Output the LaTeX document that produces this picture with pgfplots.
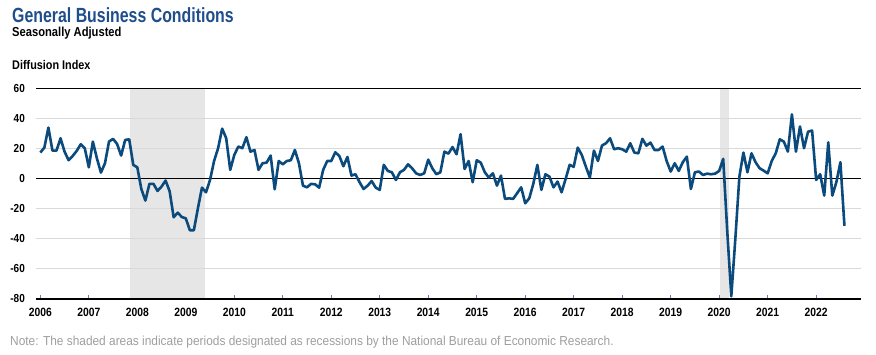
\documentclass[border=0pt]{standalone}
\usepackage{fontspec}
\setmainfont{Liberation Sans}[FakeStretch=0.86]
\newfontfamily\titlefont{Liberation Sans}[FakeStretch=0.775]
\newfontfamily\notefont{Liberation Sans}[FakeStretch=0.915]
\usepackage{graphicx}
\usepackage{pgfplots}
\pgfplotsset{compat=1.18}
\usepackage{pgfplotstable}

\definecolor{titleblue}{HTML}{1F4E8C}
\definecolor{lineblue}{HTML}{0B4A7C}
\definecolor{shade}{HTML}{E6E6E6}
\definecolor{gridgray}{HTML}{D9D9D9}
\definecolor{notegray}{HTML}{9E9E9E}
\definecolor{tickc}{HTML}{6A7FB0}

\pgfplotstableread{
k v
0 17.3
1 20.6
2 33.9
3 18.6
4 18.6
5 26.8
6 17.9
7 12.2
8 15.0
9 18.4
10 22.8
11 20.2
12 7.5
13 24.6
14 13.5
15 4.0
16 10.2
17 24.6
18 26.4
19 23.0
20 15.3
21 25.7
22 26.1
23 9.1
24 7.5
25 -6.9
26 -14.6
27 -3.5
28 -3.5
29 -8.2
30 -5.3
31 -1.3
32 -8.4
33 -25.7
34 -22.6
35 -25.5
36 -26.4
37 -34.3
38 -34.3
39 -19.7
40 -6.0
41 -9.1
42 -0.9
43 11.7
44 20.2
45 33.2
46 26.8
47 5.8
48 15.7
49 21.3
50 20.2
51 27.5
52 17.9
53 19.0
54 5.8
55 10.2
56 10.6
57 15.3
58 -7.1
59 11.7
60 9.5
61 11.7
62 12.2
63 19.0
64 10.2
65 -4.7
66 -5.8
67 -3.5
68 -3.8
69 -6.0
70 5.8
71 11.7
72 11.7
73 17.5
74 15.0
75 8.2
76 14.4
77 2.0
78 2.9
79 -2.4
80 -6.9
81 -4.7
82 -1.6
83 -6.0
84 -7.5
85 9.1
86 5.1
87 4.2
88 -0.9
89 4.2
90 5.8
91 9.5
92 6.9
93 3.5
94 2.4
95 3.5
96 12.6
97 6.9
98 2.9
99 4.2
100 17.9
101 16.6
102 21.0
103 16.2
104 29.5
105 6.4
106 11.7
107 -2.4
108 12.2
109 10.6
110 4.2
111 0.7
112 3.5
113 -4.7
114 2.0
115 -13.5
116 -13.1
117 -13.5
118 -9.7
119 -5.8
120 -16.4
121 -13.1
122 -3.5
123 9.1
124 -7.5
125 2.9
126 1.3
127 -5.8
128 -2.0
129 -9.1
130 -0.2
131 9.1
132 7.8
133 20.6
134 15.7
135 8.0
136 0.7
137 18.6
138 11.7
139 22.0
140 23.5
141 26.8
142 19.5
143 20.2
144 19.5
145 17.9
146 23.5
147 17.3
148 16.8
149 26.4
150 21.9
151 23.9
152 19.0
153 19.0
154 21.3
155 11.7
156 4.7
157 10.2
158 5.1
159 10.9
160 14.6
161 -6.9
162 4.2
163 4.7
164 2.4
165 3.3
166 2.9
167 3.3
168 5.1
169 13.1
170 -35.0
171 -78.2
172 -40.0
173 1.3
174 17.3
175 4.2
176 16.8
177 10.9
178 6.9
179 5.3
180 3.5
181 11.7
182 16.8
183 26.1
184 24.6
185 17.9
186 42.7
187 17.9
188 34.6
189 20.2
190 31.2
191 31.9
192 -0.9
193 2.9
194 -11.3
195 24.1
196 -11.3
197 -2.4
198 10.9
199 -31.4
}\gbc

\begin{document}
\begin{tikzpicture}
\path[use as bounding box] (0pt,0pt) rectangle (876pt,354pt);
\node[anchor=base west, inner sep=0pt, text=titleblue, font=\titlefont\fontsize{20.5}{22}\selectfont\bfseries] at (12pt,331.7pt) {General Business Conditions};
\node[anchor=base west, inner sep=0pt, font=\fontsize{13}{14}\selectfont\bfseries] at (12pt,317.3pt) {Seasonally Adjusted};
\node[anchor=base west, inner sep=0pt, font=\fontsize{12.6}{14}\selectfont\bfseries] at (12pt,284.5pt) {Diffusion Index};
\node[anchor=base west, inner sep=0pt, text=notegray, font=\notefont\fontsize{13}{14}\selectfont] at (10pt,9pt) {Note: The shaded areas indicate periods designated as recessions by the National Bureau of Economic Research.};
\begin{axis}[
  at={(36pt,55pt)}, anchor=south west,
  scale only axis, width=825pt, height=210.7pt,
  xmin=-1.07, xmax=203.1, ymin=-80, ymax=60,
  clip=false,
  axis line style={draw=none},
  xtick={0,12,...,192},
  xticklabels={2006,2007,2008,2009,2010,2011,2012,2013,2014,2015,2016,2017,2018,2019,2020,2021,2022},
  xtick pos=left, xtick align=inside,
  major tick length=4pt,
  x tick style={tickc, line width=1pt},
  ytick={-80,-60,-40,-20,0,20,40,60},
  yticklabels={-80,-60,-40,-20,0,20,40,60},
  y tick style={draw=none},
  xticklabel style={font=\fontsize{12}{13}\selectfont\bfseries, anchor=north, inner sep=0pt, yshift=-9pt},
  yticklabel style={font=\fontsize{11.6}{13}\selectfont\bfseries, anchor=east, inner sep=0pt, xshift=-11pt},
]
\addplot[fill=shade, draw=none] coordinates {(22.2,-80) (22.2,60) (40.7,60) (40.7,-80)};
\addplot[fill=shade, draw=none] coordinates {(168.2,-80) (168.2,60) (170.4,60) (170.4,-80)};
\addplot[gridgray, line width=1pt] coordinates {(-1.07,-60) (203.1,-60)};
\addplot[gridgray, line width=1pt] coordinates {(-1.07,-40) (203.1,-40)};
\addplot[gridgray, line width=1pt] coordinates {(-1.07,-20) (203.1,-20)};
\addplot[gridgray, line width=1pt] coordinates {(-1.07,20) (203.1,20)};
\addplot[gridgray, line width=1pt] coordinates {(-1.07,40) (203.1,40)};
\addplot[black, line width=1.4pt] coordinates {(-1.07,60) (203.1,60)};
\addplot[black, line width=1.4pt] coordinates {(-1.07,0) (203.1,0)};
\addplot[black, line width=1.4pt] coordinates {(-1.07,-80) (203.1,-80)};
\addplot[lineblue, line width=2.6pt, line join=round] table[x=k, y=v] {\gbc};
\end{axis}
\end{tikzpicture}
\end{document}
